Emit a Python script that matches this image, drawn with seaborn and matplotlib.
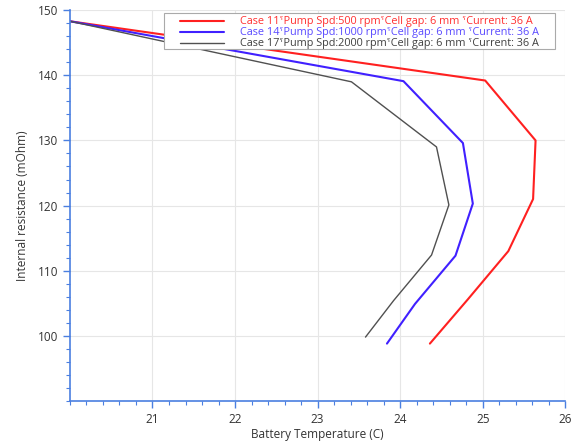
import matplotlib
matplotlib.use("Agg")
import matplotlib.pyplot as plt
import seaborn as sns
import pandas as pd
from matplotlib.patches import Rectangle
from matplotlib.ticker import MultipleLocator, FixedLocator

sep = "\u02E4"
labels = [
    f"Case 11{sep}Pump Spd:500 rpm{sep}Cell gap: 6 mm {sep}Current: 36 A",
    f"Case 14{sep}Pump Spd:1000 rpm{sep}Cell gap: 6 mm {sep}Current: 36 A",
    f"Case 17{sep}Pump Spd:2000 rpm{sep}Cell gap: 6 mm {sep}Current: 36 A",
]
temp_11 = [20.0, 25.03, 25.64, 25.61, 25.31, 24.82, 24.36]
res_11 = [148.3, 139.2, 130.0, 121.0, 113.0, 105.6, 98.8]
temp_14 = [20.0, 24.04, 24.76, 24.88, 24.67, 24.18, 23.84]
res_14 = [148.3, 139.1, 129.6, 120.3, 112.3, 104.9, 98.8]
temp_17 = [20.0, 23.41, 24.44, 24.59, 24.38, 23.92, 23.58]
res_17 = [148.3, 139.0, 129.0, 120.1, 112.4, 105.4, 99.8]
colors = ["#ff2020", "#4020ff", "#505050"]
text_colors = ["#ff3030", "#5a4aff", "#404040"]
widths = [1.5, 1.5, 1.0]

frames = []
for lab, t, r in zip(labels, [temp_11, temp_14, temp_17], [res_11, res_14, res_17]):
    frames.append(pd.DataFrame({"temp": t, "res": r, "case": lab}))
df = pd.concat(frames, ignore_index=True)

sns.set_theme(style="white")
plt.rcParams["font.family"] = ["Open Sans", "DejaVu Sans"]

fig = plt.figure(figsize=(5.78, 4.43), dpi=100)
ax = fig.add_axes([0.121, 0.095, 0.857, 0.882])

for lab, c, w in zip(labels, colors, widths):
    sub = df[df["case"] == lab]
    sns.lineplot(data=sub, x="temp", y="res", sort=False, estimator=None,
                 color=c, linewidth=w, label=lab, ax=ax)

ax.set_xlim(20, 26)
ax.set_ylim(90, 150)
ax.xaxis.set_major_locator(FixedLocator([21, 22, 23, 24, 25, 26]))
ax.xaxis.set_minor_locator(MultipleLocator(0.2))
ax.yaxis.set_major_locator(FixedLocator([100, 110, 120, 130, 140, 150]))
ax.yaxis.set_minor_locator(MultipleLocator(2))
ax.grid(True, which="major", color="#e6e6e6", linewidth=0.8)
ax.set_axisbelow(True)

axis_col = "#4a7fe0"
for s in ["top", "right"]:
    ax.spines[s].set_visible(False)
for s in ["left", "bottom"]:
    ax.spines[s].set_color(axis_col)
    ax.spines[s].set_linewidth(1.2)
ax.tick_params(axis="both", which="major", direction="out", length=5, width=1,
               color=axis_col, labelsize=8.5, labelcolor="#333333", bottom=True, left=True)
ax.tick_params(axis="both", which="minor", direction="out", length=3, width=0.8,
               color=axis_col, bottom=True, left=True)
ax.set_xlabel("Battery Temperature (C)", fontsize=8.5, color="#333333", labelpad=2)
ax.set_ylabel("Internal resistance (mOhm)", fontsize=8.5, color="#333333", labelpad=6)

# legend frame
ax.add_patch(Rectangle((0.190, 0.900), 0.790, 0.092, transform=ax.transAxes,
                       facecolor="white", edgecolor="#aaaaaa", linewidth=0.8,
                       zorder=4, clip_on=False))
leg = ax.legend(loc="upper left", bbox_to_anchor=(0.2222, 0.984), fontsize=7.8,
                frameon=False, handlelength=4.06, labelspacing=0.0, borderpad=0.0,
                handletextpad=1.48, borderaxespad=0)
leg.set_zorder(5)
for txt, c in zip(leg.get_texts(), text_colors):
    txt.set_color(c)

fig.savefig("out.png", dpi=100)
